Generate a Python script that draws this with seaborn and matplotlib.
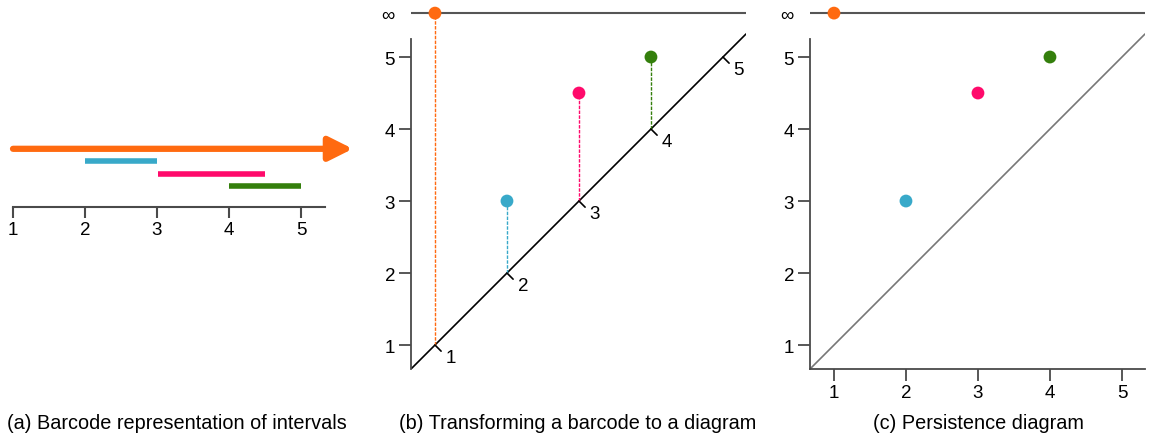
import numpy as np
import pandas as pd
import matplotlib
matplotlib.use("Agg")
import matplotlib.pyplot as plt
import seaborn as sns

# ---- data -------------------------------------------------------------
births = [1, 2, 3, 4]
deaths = [np.inf, 3, 4.5, 5]
colors = ["#FF6A10", "#38A9C9", "#FF0A6B", "#347F0C"]
bar_rows = [4, 3, 2, 1]          # vertical slot of each bar in panel (a)
ticks = [1, 2, 3, 4, 5]
diag_marks = [1, 2, 3, 4, 5]
titles = ["(a) Barcode representation of intervals",
          "(b) Transforming a barcode to a diagram",
          "(c) Persistence diagram"]

INF_Y = 5.61                     # where "infinity" is drawn
LO, HI = 0.667, 5.32

sns.set_theme(style="white")
plt.rcParams["font.family"] = ["Liberation Sans", "DejaVu Sans"]
plt.rcParams["text.color"] = "black"
plt.rcParams["xtick.labelcolor"] = "black"
plt.rcParams["ytick.labelcolor"] = "black"

W, H = 1150, 439
fig = plt.figure(figsize=(W / 100, H / 100), dpi=100)


def px_axes(left, right, bottom, top):
    return fig.add_axes([left / W, 1 - bottom / H, (right - left) / W, (bottom - top) / H])


SPINE = "#4a4a4a"
TICK_FS = 13.5

# ---- (a) barcode ------------------------------------------------------
ax = px_axes(5, 360, 208, 130)
ax.set_xlim(1 - 8 / 72, 1 + 347 / 72)
ax.set_ylim(-0.7, 5.6)
for s in ["top", "right", "left"]:
    ax.spines[s].set_visible(False)
ax.spines["bottom"].set_color(SPINE)
ax.spines["bottom"].set_linewidth(1.5)
ax.spines["bottom"].set_bounds(1, 5.33)
ax.set_xticks(ticks)
ax.set_yticks([])
ax.tick_params(axis="x", direction="out", length=8, width=1.5, color=SPINE,
               labelsize=TICK_FS, pad=2, bottom=True)

for b, d, c, r in zip(births, deaths, colors, bar_rows):
    if np.isinf(d):
        ax.annotate("", xy=(5.72, r), xytext=(b, r),
                    arrowprops=dict(arrowstyle="-|>,head_length=0.9,head_width=0.45",
                                    lw=4.5, color=c, mutation_scale=16,
                                    shrinkA=0, shrinkB=0))
    else:
        ax.hlines(r, b + (0.02 if b == 3 else 0), d, colors=c, lw=4)

df = pd.DataFrame({"birth": births, "death": deaths, "color": colors})
df["death_plot"] = df["death"].replace(np.inf, INF_Y)


def diagram_axes(left, diag_color):
    a = px_axes(left, left + 335, 370, 5)
    a.set_xlim(LO, HI)
    a.set_ylim(LO, LO + 365 / 72)
    a.spines["top"].set_visible(False)
    a.spines["right"].set_visible(False)
    a.spines["left"].set_color(SPINE)
    a.spines["left"].set_linewidth(1.3)
    a.spines["left"].set_bounds(LO, 5.25)
    a.set_yticks(ticks + [INF_Y])
    a.set_yticklabels([str(t) for t in ticks] + ["∞"])
    a.tick_params(axis="y", direction="out", length=8.5, width=1.3, color=SPINE,
                  labelsize=TICK_FS, pad=3, left=True)
    a.yaxis.get_major_ticks()[-1].tick1line.set_visible(False)
    a.axhline(INF_Y, color="#555555", lw=1.5)
    sns.lineplot(x=[LO, HI], y=[LO, HI], color=diag_color, lw=1.2, ax=a)
    return a


# ---- (b) transformation ----------------------------------------------
ax = diagram_axes(411, "black")
ax.spines["bottom"].set_visible(False)
ax.set_xticks([])
for b, d, c in zip(df["birth"], df["death_plot"], df["color"]):
    ax.vlines(b, b, d, colors=c, lw=1, linestyles=(0, (2.5, 1)))
for k in diag_marks:
    ax.plot([k, k + 0.085], [k, k - 0.085], color="black", lw=1.2)
    ax.text(k + 0.22, k - 0.18, str(k), ha="center", va="center", fontsize=TICK_FS)
sns.scatterplot(data=df, x="birth", y="death_plot", hue="color",
                palette=dict(zip(colors, colors)), s=85, edgecolor="none",
                legend=False, ax=ax, zorder=5, clip_on=False)
ax.set_xlabel("")
ax.set_ylabel("")

# ---- (c) persistence diagram -----------------------------------------
ax = diagram_axes(810, "#777777")
ax.spines["bottom"].set_color(SPINE)
ax.spines["bottom"].set_linewidth(1.3)
ax.set_xticks(ticks)
ax.tick_params(axis="x", direction="out", length=8.5, width=1.3, color=SPINE,
               labelsize=TICK_FS, pad=2, bottom=True)
sns.scatterplot(data=df, x="birth", y="death_plot", hue="color",
                palette=dict(zip(colors, colors)), s=85, edgecolor="none",
                legend=False, ax=ax, zorder=5, clip_on=False)
ax.set_xlabel("")
ax.set_ylabel("")

for xc, t in zip([177, 578, 978], titles):
    fig.text(xc / W, 1 - 424 / H, t, ha="center", va="center", fontsize=14.3)

fig.savefig("out.png", dpi=100)
